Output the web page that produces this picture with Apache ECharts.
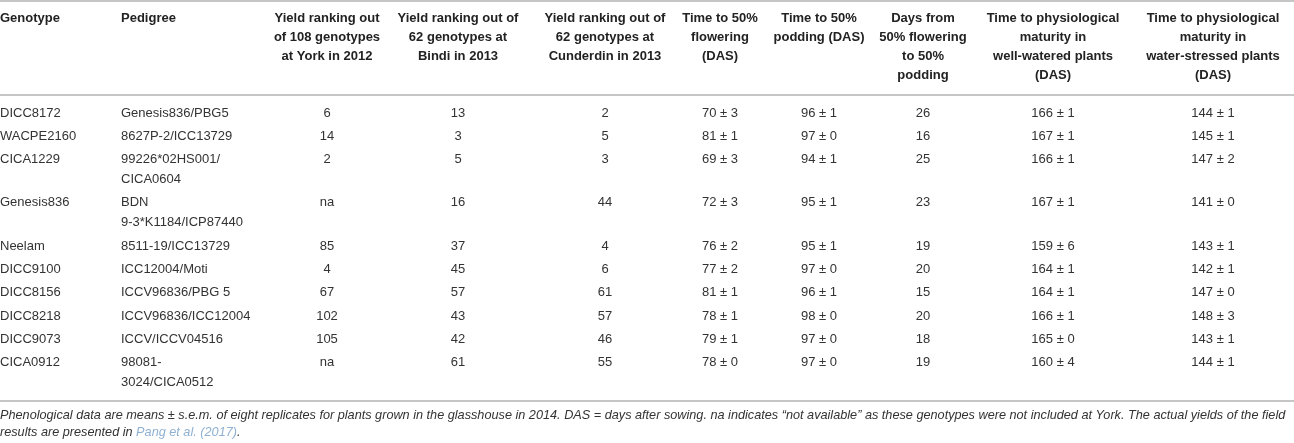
<!DOCTYPE html>
<html>
<head>
<meta charset="utf-8">
<script src="https://cdn.jsdelivr.net/npm/echarts@6/dist/echarts.min.js"></script>
<style>
html, body { margin: 0; padding: 0; background: #fff; }
#div-chart { width: 1294px; height: 443px; }
</style>
</head>
<body>
<div id="div-chart"></div>
<script>
var headers = [
    'Genotype',
    'Pedigree',
    'Yield ranking out\nof 108 genotypes\nat York in 2012',
    'Yield ranking out of\n62 genotypes at\nBindi in 2013',
    'Yield ranking out of\n62 genotypes at\nCunderdin in 2013',
    'Time to 50%\nflowering\n(DAS)',
    'Time to 50%\npodding (DAS)',
    'Days from\n50% flowering\nto 50%\npodding',
    'Time to physiological\nmaturity in\nwell-watered plants\n(DAS)',
    'Time to physiological\nmaturity in\nwater-stressed plants\n(DAS)'
];
var genotypes = ['DICC8172', 'WACPE2160', 'CICA1229', 'Genesis836', 'Neelam', 'DICC9100', 'DICC8156', 'DICC8218', 'DICC9073', 'CICA0912'];
var pedigrees = ['Genesis836/PBG5', '8627P-2/ICC13729', '99226*02HS001/\nCICA0604', 'BDN\n9-3*K1184/ICP87440', '8511-19/ICC13729', 'ICC12004/Moti', 'ICCV96836/PBG 5', 'ICCV96836/ICC12004', 'ICCV/ICCV04516', '98081-\n3024/CICA0512'];
var rankYork = ['6', '14', '2', 'na', '85', '4', '67', '102', '105', 'na'];
var rankBindi = [13, 3, 5, 16, 37, 45, 57, 43, 42, 61];
var rankCunderdin = [2, 5, 3, 44, 4, 6, 61, 57, 46, 55];
var floweringMean = [70, 81, 69, 72, 76, 77, 81, 78, 79, 78];
var floweringSem = [3, 1, 3, 3, 2, 2, 1, 1, 1, 0];
var poddingMean = [96, 97, 94, 95, 95, 97, 96, 98, 97, 97];
var poddingSem = [1, 0, 1, 1, 1, 0, 1, 0, 0, 0];
var floweringToPodding = [26, 16, 25, 23, 19, 20, 15, 20, 18, 19];
var wellWateredMean = [166, 167, 166, 167, 159, 164, 164, 166, 165, 160];
var wellWateredSem = [1, 1, 1, 1, 6, 1, 1, 1, 0, 4];
var stressedMean = [144, 145, 147, 141, 143, 142, 147, 148, 143, 144];
var stressedSem = [1, 1, 2, 0, 1, 1, 0, 3, 1, 1];

var footnote = 'Phenological data are means \u00b1 s.e.m. of eight replicates for plants grown in the glasshouse in 2014. DAS = days after sowing. na indicates \u201cnot available\u201d as these genotypes were not included at York. The actual yields of the field';
var footnote2 = 'results are presented in ';
var footnoteRef = 'Pang et al. (2017)';

// column anchors (layout) and alignment
var colX = [0, 121, 327, 458, 605, 720, 819, 923, 1053, 1213];
var colAlign = ['left', 'left', 'center', 'center', 'center', 'center', 'center', 'center', 'center', 'center'];

var pm = function (m, s) { return m + ' \u00b1 ' + s; };

// row tops from the number of lines in each row
var headTop = 8.5, headLine = 19;
var bodyTop = 103, rowPitch = 23.3, subLine = 20;
var rowTop = [];
var y = bodyTop;
for (var i = 0; i < genotypes.length; i++) {
    rowTop.push(y);
    y += rowPitch + subLine * (pedigrees[i].split('\n').length - 1);
}

var cells = [];
headers.forEach(function (h, c) {
    cells.push([colX[c], headTop, h, c, 1]);
});
genotypes.forEach(function (g, r) {
    var row = [
        g, pedigrees[r], rankYork[r], rankBindi[r], rankCunderdin[r],
        pm(floweringMean[r], floweringSem[r]), pm(poddingMean[r], poddingSem[r]),
        floweringToPodding[r], pm(wellWateredMean[r], wellWateredSem[r]), pm(stressedMean[r], stressedSem[r])
    ];
    row.forEach(function (v, c) {
        cells.push([colX[c], rowTop[r], String(v), c, 0]);
    });
});

var myChart = echarts.init(document.getElementById('div-chart'));

var option = {
    animation: false,
    grid: { left: 0, right: 0, top: 0, bottom: 0 },
    xAxis: { type: 'value', min: 0, max: 1294, show: false },
    yAxis: { type: 'value', min: 0, max: 443, inverse: true, show: false },
    graphic: [
        { type: 'rect', shape: { x: 0, y: 0, width: 1294, height: 2 }, style: { fill: '#c6c6c6' } },
        { type: 'rect', shape: { x: 0, y: 94, width: 1294, height: 2 }, style: { fill: '#c6c6c6' } },
        { type: 'rect', shape: { x: 0, y: 400, width: 1294, height: 2 }, style: { fill: '#c6c6c6' } },
        {
            type: 'text', left: 0, top: 409,
            style: {
                text: '{n|' + footnote + '}\n{n|' + footnote2 + '}{r|' + footnoteRef + '}{n|.}',
                rich: {
                    n: { font: 'italic 12.7px "Liberation Sans", Arial, sans-serif', fill: '#333', lineHeight: 17 },
                    r: { font: 'italic 12.7px "Liberation Sans", Arial, sans-serif', fill: '#8fb1d3', lineHeight: 17 }
                }
            }
        }
    ],
    series: [{
        type: 'custom',
        coordinateSystem: 'cartesian2d',
        data: cells,
        renderItem: function (params, api) {
            var pt = api.coord([api.value(0), api.value(1)]);
            var c = api.value(3);
            var isHead = api.value(4) === 1;
            return {
                type: 'text',
                x: pt[0],
                y: pt[1],
                style: {
                    text: cells[params.dataIndex][2],
                    font: (isHead ? 'bold ' : '') + '13px "Liberation Sans", Arial, sans-serif',
                    fill: isHead ? '#222' : '#333',
                    align: colAlign[c],
                    verticalAlign: 'top',
                    lineHeight: isHead ? headLine : subLine
                }
            };
        }
    }]
};

myChart.setOption(option);
</script>
</body>
</html>
